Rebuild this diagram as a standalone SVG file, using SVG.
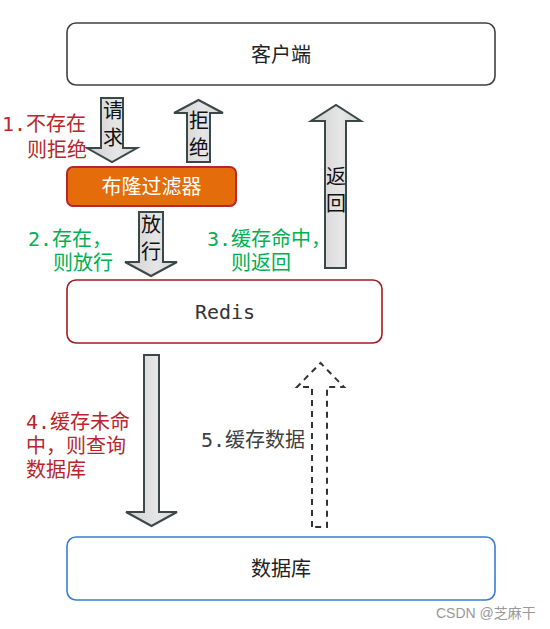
<svg xmlns="http://www.w3.org/2000/svg" width="550" height="629" viewBox="0 0 550 629">
<defs>
<linearGradient id="ag" x1="0" y1="0" x2="1" y2="0">
<stop offset="0" stop-color="#cfcfcf"/>
<stop offset="0.6" stop-color="#e6e6e6"/>
<stop offset="1" stop-color="#d4d4d4"/>
</linearGradient>
<style>
.box{fill:#fff;stroke-width:1.6}
.arr{fill:url(#ag);stroke:#3b4848;stroke-width:2;stroke-linejoin:miter}
.dash{fill:#fff;stroke:#333;stroke-width:2;stroke-dasharray:6 5}
.cjk{font-family:"Noto Sans CJK SC",sans-serif;font-size:20px}
.mono{font-family:"DejaVu Sans Mono","Noto Sans CJK SC",monospace;font-size:20px}
.red{fill:#B8262C}
.green{fill:#00B050}
.ins{fill:#111;text-anchor:middle}
.lab{text-anchor:middle;fill:#222}
</style>
</defs>
<rect width="550" height="629" fill="#fff"/>
<g id="client">
<rect class="box" x="67" y="23" width="428" height="62" rx="9" stroke="#404040"/>
<text class="cjk lab" x="281" y="62">客户端</text>
</g>
<g id="bloom">
<rect x="67" y="167" width="169" height="39" rx="6" fill="#E46C0A" stroke="#B8262C" stroke-width="2"/>
<text class="cjk" x="151.5" y="194" fill="#fff" text-anchor="middle">布隆过滤器</text>
</g>
<g id="redis">
<rect class="box" x="67" y="280" width="315" height="63" rx="9" stroke="#A31C1C"/>
<text class="mono" x="225" y="319" fill="#333" text-anchor="middle">Redis</text>
</g>
<g id="db">
<rect class="box" x="67" y="537" width="428" height="63" rx="9" stroke="#3A7BD5"/>
<text class="cjk lab" x="281" y="576">数据库</text>
</g>
<g id="connectors">
<polygon class="arr" points="101,98 123,98 123,148 137,148 112,162 87,148 101,148"/>
<text class="cjk ins"><tspan x="113" y="118">请</tspan><tspan x="113" dy="27">求</tspan></text>
<polygon class="arr" points="187,162 187,113 174,113 198.5,100 223,113 210,113 210,162"/>
<text class="cjk ins"><tspan x="199" y="128">拒</tspan><tspan x="199" dy="27">绝</tspan></text>
<polygon class="arr" points="139,212 163,212 163,262 177,262 151,276 125,262 139,262"/>
<text class="cjk ins"><tspan x="151" y="232">放</tspan><tspan x="151" dy="27">行</tspan></text>
<polygon class="arr" points="325,268 325,121 311,121 336,105 361,121 346,121 346,268"/>
<text class="cjk ins"><tspan x="336" y="184">返</tspan><tspan x="336" dy="27">回</tspan></text>
<polygon class="arr" points="144,355 159,355 159,512 177,512 151.5,526 126,512 144,512"/>
<polygon class="dash" points="312,527 312,387 297,387 320.5,363 344,387 327,387 327,527"/>
</g>
<g id="labels">
<text class="mono red" x="2" y="131">1.不存在</text>
<text class="mono red" x="27" y="157">则拒绝</text>
<text class="mono green" x="28" y="246">2.存在，</text>
<text class="mono green" x="53" y="270">则放行</text>
<text class="mono green" x="207" y="246">3.缓存命中，</text>
<text class="mono green" x="231" y="270">则返回</text>
<text class="mono red" x="26" y="429">4.缓存未命</text>
<text class="mono red" x="26" y="453">中，则查询</text>
<text class="mono red" x="26" y="477">数据库</text>
<text class="mono" x="201" y="447" fill="#404040">5.缓存数据</text>
<text x="436" y="618" font-family="'Liberation Sans','Noto Sans CJK SC',sans-serif" font-size="14" fill="#999">CSDN @芝麻干</text>
</g>
</svg>
